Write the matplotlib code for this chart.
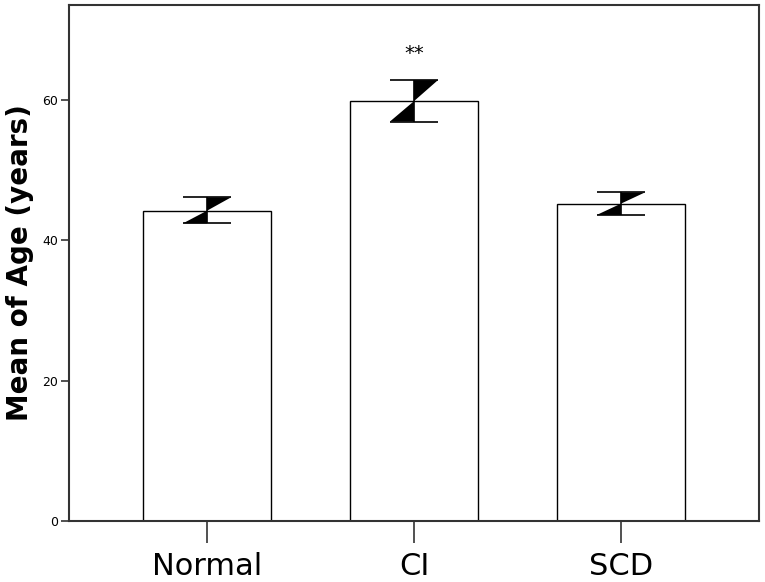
import matplotlib
matplotlib.use('Agg')
import matplotlib.pyplot as plt
import numpy as np

# data
groups = ['Normal', 'CI', 'SCD']
mean_age = [44.2, 59.8, 45.2]
err_low = [42.4, 56.9, 43.6]
err_high = [46.1, 62.8, 46.8]
sig_marks = ['', '**', '']

x = np.arange(len(groups))
bar_w = 0.62
cap = 0.116

fig = plt.figure(figsize=(7.65, 5.82), dpi=100)
ax = fig.add_axes([0.0902, 0.1048, 0.9018, 0.8866])

ax.bar(x, mean_age, width=bar_w, color='white', edgecolor='black', linewidth=1.0, zorder=2)

for xi, m, lo, hi in zip(x, mean_age, err_low, err_high):
    # SPSS style bowtie error bar
    ax.fill([xi, xi + cap, xi], [hi, hi, m], color='black', lw=0, zorder=3)
    ax.fill([xi, xi - cap, xi], [lo, lo, m], color='black', lw=0, zorder=3)
    ax.hlines([lo, hi], xi - cap, xi + cap, color='black', lw=1.2, zorder=3)
    ax.vlines(xi, lo, hi, color='black', lw=1.2, zorder=3)

for xi, hi, s in zip(x, err_high, sig_marks):
    if s:
        ax.text(xi, hi + 3.8, s, ha='center', va='center', fontsize=14)

ax.set_xlim(-0.667, 2.667)
ax.set_ylim(0, 73.5)
ax.set_yticks([0, 20, 40, 60])
ax.tick_params(axis='y', length=6, width=1.2, color='#333333', labelsize=9, pad=2)
ax.set_ylabel('Mean of Age (years)', fontsize=20, fontweight='bold', labelpad=6)

for sp in ax.spines.values():
    sp.set_linewidth(1.5)
    sp.set_color('#333333')

ax.set_xticks(x)
ax.set_xticklabels(groups)
ax.tick_params(axis='x', length=16, width=1.2, color='#333333', labelsize=22, pad=6)

fig.savefig('out.png', dpi=100)
